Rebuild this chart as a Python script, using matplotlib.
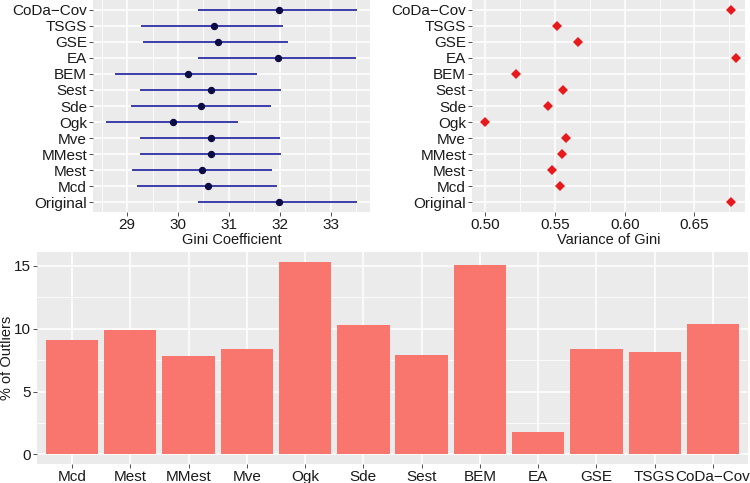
import numpy as np
import matplotlib
matplotlib.use("Agg")
import matplotlib.pyplot as plt
from matplotlib.ticker import MultipleLocator

plt.rcParams['font.family'] = ['Liberation Sans', 'DejaVu Sans']

# methods, bottom to top in the top panels
methods = ["Original", "Mcd", "Mest", "MMest", "Mve", "Ogk", "Sde", "Sest",
           "BEM", "EA", "GSE", "TSGS", "CoDa\u2212Cov"]

gini = [31.99, 30.58, 30.47, 30.65, 30.64, 29.91, 30.46, 30.65,
        30.20, 31.96, 30.79, 30.70, 31.99]
gini_lo = [30.40, 29.20, 29.10, 29.26, 29.25, 28.58, 29.08, 29.26,
           28.76, 30.39, 29.31, 29.27, 30.40]
gini_hi = [33.52, 31.95, 31.85, 32.02, 32.00, 31.17, 31.83, 32.02,
           31.56, 33.50, 32.15, 32.07, 33.52]

var_gini = [0.6765, 0.5533, 0.5480, 0.5549, 0.5578, 0.4998, 0.5449, 0.5559,
            0.5217, 0.6799, 0.5666, 0.5511, 0.6765]

# bottom panel
bar_methods = ["Mcd", "Mest", "MMest", "Mve", "Ogk", "Sde", "Sest",
               "BEM", "EA", "GSE", "TSGS", "CoDa\u2212Cov"]
outliers = [9.11, 9.90, 7.82, 8.40, 15.27, 10.33, 7.92,
            15.06, 1.80, 8.40, 8.16, 10.36]

W, H = 750, 483
fig = plt.figure(figsize=(W / 100, H / 100), dpi=100)

BG = "#EBEBEB"
TXT = "#1a1a1a"
FS = 11
FT = 10.5


def px_axes(x0, y0, x1, y1):
    return fig.add_axes([x0 / W, 1 - y1 / H, (x1 - x0) / W, (y1 - y0) / H])


def gg_style(ax, minor_x=None, minor_y=None):
    ax.set_facecolor(BG)
    for s in ax.spines.values():
        s.set_visible(False)
    ax.set_axisbelow(True)
    ax.grid(which="major", color="white", linewidth=1.1)
    if minor_x is not None:
        ax.xaxis.set_minor_locator(MultipleLocator(minor_x))
        ax.grid(which="minor", axis="x", color="white", linewidth=0.55)
    if minor_y is not None:
        ax.yaxis.set_minor_locator(MultipleLocator(minor_y))
        ax.grid(which="minor", axis="y", color="white", linewidth=0.55)
    ax.tick_params(which="major", length=2.8, width=0.6, color="#333333",
                   labelsize=FS, labelcolor=TXT, pad=1.5)
    ax.tick_params(which="minor", length=0)


ypos = np.arange(len(methods))

# top left: gini coefficient intervals
ax1 = px_axes(93, 0, 370, 212)
gg_style(ax1, minor_x=0.5)
ax1.hlines(ypos, gini_lo, gini_hi, color="#2e2ea6", linewidth=1.3)
ax1.plot(gini, ypos, "o", color="#0b0b45", markersize=4.3)
ax1.set_yticks(ypos)
ax1.set_yticklabels(methods)
ax1.set_xticks([29, 30, 31, 32, 33])
ax1.set_xlim(28.33, 33.77)
ax1.set_ylim(-0.6, len(methods) - 0.4)
ax1.set_xlabel("Gini Coefficient", fontsize=FT, color=TXT, labelpad=1)

# top right: variance of gini
ax2 = px_axes(472, 0, 745, 212)
gg_style(ax2, minor_x=0.025)
ax2.plot(var_gini, ypos, "D", color="#E8191C", markersize=4.6, markeredgewidth=0)
ax2.set_yticks(ypos)
ax2.set_yticklabels(methods)
ax2.set_xticks([0.50, 0.55, 0.60, 0.65])
ax2.set_xticklabels(["0.50", "0.55", "0.60", "0.65"])
ax2.set_xlim(0.4904, 0.6863)
ax2.set_ylim(-0.6, len(methods) - 0.4)
ax2.set_xlabel("Variance of Gini", fontsize=FT, color=TXT, labelpad=1)

# bottom: percentage of outliers
ax3 = px_axes(37, 252, 748, 464)
gg_style(ax3, minor_y=2.5)
xpos = np.arange(len(bar_methods))
ax3.bar(xpos, outliers, width=0.9, color="#F8766D")
ax3.set_xticks(xpos)
ax3.set_xticklabels(bar_methods)
ax3.set_yticks([0, 5, 10, 15])
ax3.set_xlim(-0.6, len(bar_methods) - 0.4)
ax3.set_ylim(-0.76, 16.1)
ax3.grid(which="major", axis="x", color="white", linewidth=1.1)
fig.text(7 / W, 1 - 358 / H, "% of Outliers", rotation=90, fontsize=FT,
         color=TXT, ha="center", va="center")

fig.savefig("out.png", dpi=100)
